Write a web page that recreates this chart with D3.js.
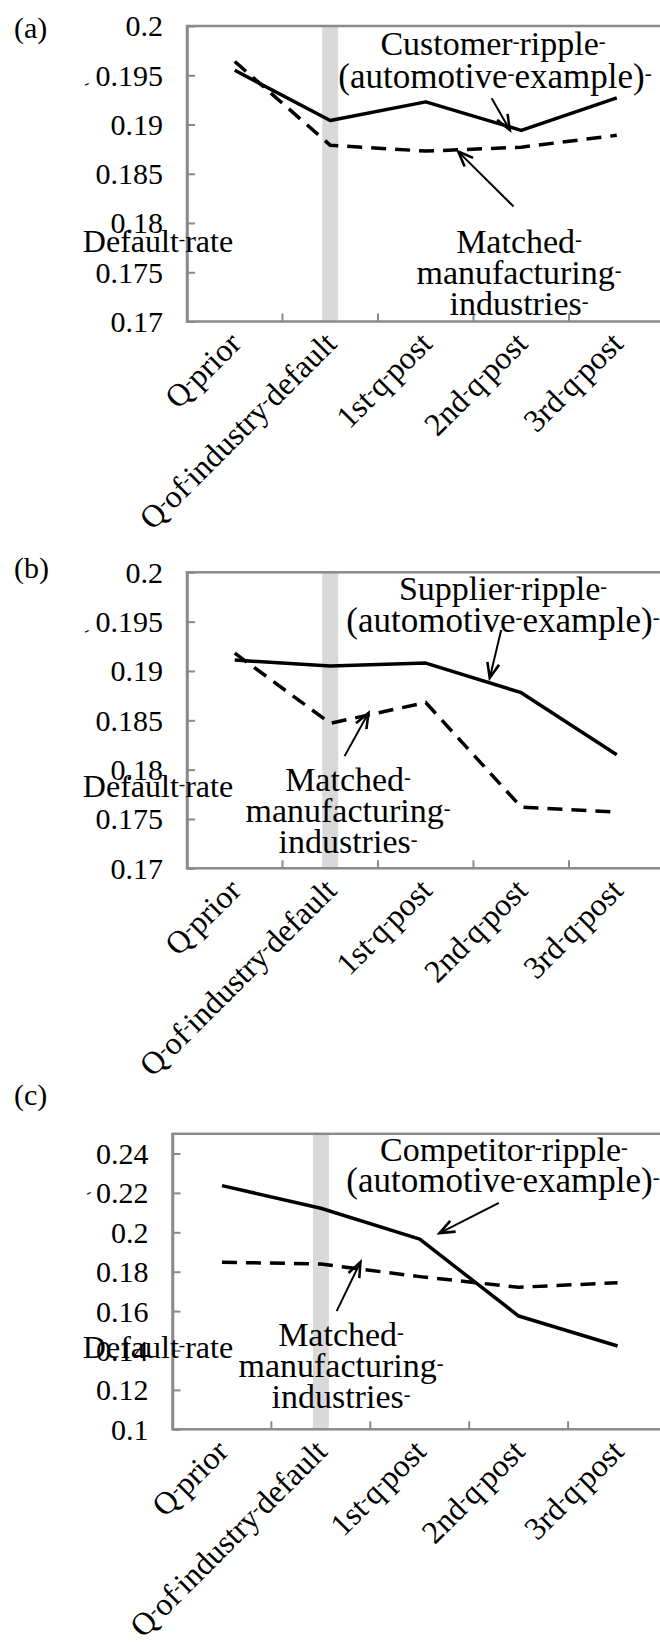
<!DOCTYPE html>
<html>
<head>
<meta charset="utf-8">
<script src="https://cdn.jsdelivr.net/npm/d3@7"></script>
<style>
  body { margin: 0; background: #fff; }
  svg { display: block; }
</style>
</head>
<body>
<div id="chart"></div>
<script>
// categories and values
var categories = ["Q prior", "Q of industry default", "1st q post", "2nd q post", "3rd q post"];

var customerRipple   = [0.1955, 0.1904, 0.1923, 0.1894, 0.1927];
var customerMatched  = [0.1964, 0.1879, 0.1873, 0.1877, 0.1889];
var supplierRipple   = [0.1911, 0.1905, 0.1908, 0.1878, 0.1815];
var supplierMatched  = [0.1918, 0.1847, 0.1868, 0.1762, 0.1757];
var competitorRipple = [0.2237, 0.2122, 0.1965, 0.1575, 0.1423];
var competitorMatched= [0.1848, 0.1839, 0.1775, 0.1721, 0.1744];

var ticksAB = [0.17, 0.175, 0.18, 0.185, 0.19, 0.195, 0.2];
var ticksC  = [0.1, 0.12, 0.14, 0.16, 0.18, 0.2, 0.22, 0.24];

var panelLabels = ["(a)", "(b)", "(c)"];
var rippleNames = ["Customer ripple ", "Supplier ripple ", "Competitor ripple "];
var rippleSub = "(automotive example) ";
var matchedLines = ["Matched ", "manufacturing ", "industries "];
var yTitle = "Default rate";

var W = 660, H = 1646;
var gray = "#8a8a8a";
var FONT = "Liberation Serif";

var svg = d3.select("#chart").append("svg")
    .attr("width", W).attr("height", H)
    .attr("font-family", FONT);

// arrowhead
svg.append("defs").append("marker")
    .attr("id", "arrow")
    .attr("markerUnits", "userSpaceOnUse")
    .attr("markerWidth", 20).attr("markerHeight", 16)
    .attr("refX", 16).attr("refY", 8)
    .attr("orient", "auto")
  .append("path")
    .attr("d", "M1,2 L16,8 L1,14")
    .attr("fill", "none")
    .attr("stroke", "#000")
    .attr("stroke-width", 2.6);

// text with the little word-separator marks between words
function marked(sel, str, size) {
  sel.attr("font-family", FONT).attr("fill", "#000");
  var parts = str.split(" ");
  var shift = size * 0.22;
  parts.forEach(function(p, i) {
    if (i > 0) {
      sel.append("tspan").attr("font-size", size * 0.6).attr("dy", -shift).text("-");
      sel.append("tspan").attr("font-size", size).attr("dy", shift).text(p);
    } else {
      sel.append("tspan").attr("font-size", size).text(p);
    }
  });
}

var panels = [
  { top: 26, bottom: 321.5, left: 187, band: 95.5, domain: [0.17, 0.2], ticks: ticksAB,
    ripple: customerRipple, matched: customerMatched, labelY: 38,
    title: [493, 55], sub: [495, 88], matchedPos: [519, 253], titleY: 251.7, stray: [86, 89],
    arrows: [ { from: [3.19, 0.19267], to: [3.38, 0.18945] },
              { from: [3.42, 0.18167], to: [2.84, 0.18725] } ] },
  { top: 572.3, bottom: 868.3, left: 187, band: 95.5, domain: [0.17, 0.2], ticks: ticksAB,
    ripple: supplierRipple, matched: supplierMatched, labelY: 578,
    title: [503, 600], sub: [503, 632], matchedPos: [348, 791], titleY: 797, stray: [86, 636],
    arrows: [ { from: [3.29, 0.19415], to: [3.17, 0.1893] },
              { from: [1.65, 0.18137], to: [1.90, 0.18573] } ] },
  { top: 1133.8, bottom: 1429.3, left: 172.5, band: 98.9, domain: [0.1, 0.25], ticks: ticksC,
    ripple: competitorRipple, matched: competitorMatched, labelY: 1105,
    title: [504, 1161], sub: [503, 1192], matchedPos: [341, 1346], titleY: 1358, stray: [88, 1198],
    arrows: [ { from: [3.30, 0.2149], to: [2.70, 0.1996] },
              { from: [1.66, 0.160], to: [1.90, 0.1849] } ] }
];

panels.forEach(function(p, pi) {
  var g = svg.append("g");
  var right = p.left + p.band * categories.length;

  var x = d3.scaleBand().domain(categories).range([p.left, right]);
  var xi = d3.scaleLinear().domain([0, categories.length]).range([p.left, right]);
  var y = d3.scaleLinear().domain(p.domain).range([p.bottom, p.top]);
  var cx = function(c) { return x(c) + x.bandwidth() / 2; };

  // shaded column at the quarter of the default
  g.append("rect")
      .attr("x", cx(categories[1]) - 8)
      .attr("y", p.top)
      .attr("width", 16)
      .attr("height", p.bottom - p.top)
      .attr("fill", "#d9d9d9");

  // frame
  g.append("rect")
      .attr("x", p.left).attr("y", p.top)
      .attr("width", right - p.left).attr("height", p.bottom - p.top)
      .attr("fill", "none").attr("stroke", gray).attr("stroke-width", 2.5);

  // y axis
  var yAxis = g.append("g")
      .attr("transform", "translate(" + p.left + ",0)")
      .call(d3.axisLeft(y).tickValues(p.ticks).tickSize(-8).tickSizeOuter(0).tickPadding(24)
        .tickFormat(function(d) { return String(+d.toFixed(3)); }));
  yAxis.attr("font-family", FONT).attr("font-size", 30);
  yAxis.select(".domain").attr("stroke", gray).attr("stroke-width", 2.5);
  yAxis.selectAll(".tick line").attr("stroke", gray).attr("stroke-width", 2);
  yAxis.selectAll(".tick text")
      .attr("font-size", 30)
      .attr("font-family", FONT)
      .attr("fill", "#000")
      .attr("dy", "0.33em");

  // x ticks at category boundaries, pointing inward
  g.selectAll(".xtick").data(categories.slice(1)).enter().append("line")
      .attr("x1", function(c) { return x(c); })
      .attr("x2", function(c) { return x(c); })
      .attr("y1", p.bottom).attr("y2", p.bottom - 8)
      .attr("stroke", gray).attr("stroke-width", 2);

  // rotated category labels
  g.selectAll(".xlab").data(categories).enter().append("text")
      .attr("text-anchor", "end")
      .attr("transform", function(c) {
        return "translate(" + (cx(c) + 8) + "," + (p.bottom + 24) + ") rotate(-45)";
      })
      .each(function(c) { marked(d3.select(this), c, 32); });

  // series
  var line = d3.line()
      .x(function(d, i) { return cx(categories[i]); })
      .y(function(d) { return y(d); });

  g.append("path").datum(p.matched)
      .attr("d", line)
      .attr("fill", "none").attr("stroke", "#000")
      .attr("stroke-width", 3.5)
      .attr("stroke-dasharray", "15,9");

  g.append("path").datum(p.ripple)
      .attr("d", line)
      .attr("fill", "none").attr("stroke", "#000")
      .attr("stroke-width", 3.5)
      .attr("stroke-linejoin", "round");

  // arrows
  p.arrows.forEach(function(a) {
    g.append("line")
        .attr("x1", xi(a.from[0])).attr("y1", y(a.from[1]))
        .attr("x2", xi(a.to[0])).attr("y2", y(a.to[1]))
        .attr("stroke", "#000").attr("stroke-width", 2)
        .attr("marker-end", "url(#arrow)");
  });

  // annotations
  g.append("text").attr("text-anchor", "middle")
      .attr("x", p.title[0]).attr("y", p.title[1])
      .each(function() { marked(d3.select(this), rippleNames[pi], 34); });
  g.append("text").attr("text-anchor", "middle")
      .attr("x", p.sub[0]).attr("y", p.sub[1])
      .each(function() { marked(d3.select(this), rippleSub, 35); });
  matchedLines.forEach(function(s, li) {
    g.append("text").attr("text-anchor", "middle")
        .attr("x", p.matchedPos[0]).attr("y", p.matchedPos[1] + li * 31)
        .each(function() { marked(d3.select(this), s, 34); });
  });

  // axis title sits across the tick labels, as in the original
  g.append("text").attr("text-anchor", "middle")
      .attr("x", 158).attr("y", p.titleY)
      .each(function() { marked(d3.select(this), yTitle, 32); });

  // stray mark left of the axis
  g.append("text")
      .attr("x", p.stray[0]).attr("y", p.stray[1])
      .attr("font-size", 16)
      .attr("transform", "rotate(-25," + p.stray[0] + "," + p.stray[1] + ")")
      .text("-");

  // panel letter
  g.append("text")
      .attr("x", 14).attr("y", p.labelY)
      .attr("font-size", 30)
      .text(panelLabels[pi]);
});
</script>
</body>
</html>
